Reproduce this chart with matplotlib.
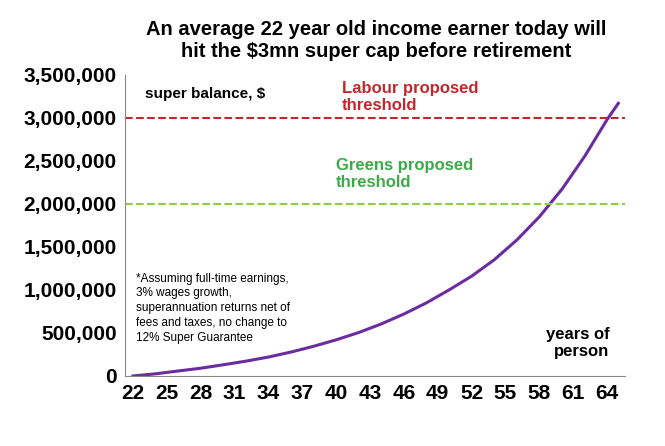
import matplotlib
matplotlib.use("Agg")
import matplotlib.pyplot as plt

ages = [22, 24, 26, 28, 30, 32, 34, 36, 38, 40, 42, 44, 46, 48, 50, 52, 54,
        56, 58, 60, 62, 64, 65]
balance = [0, 25000, 58000, 90000, 130000, 172000, 220000, 278000, 345000,
           420000, 505000, 605000, 720000, 850000, 1000000, 1160000, 1350000,
           1580000, 1850000, 2170000, 2550000, 2980000, 3170000]
labour_cap = 3000000
greens_cap = 2000000
xticks = list(range(22, 65, 3))
yticks = list(range(0, 3500001, 500000))

plt.rcParams['font.family'] = ['Liberation Sans', 'DejaVu Sans']
plt.rcParams['font.weight'] = 'bold'

fig = plt.figure(figsize=(6.65, 4.46), dpi=100)
ax = fig.add_axes([0.188, 0.157, 0.752, 0.675])

ax.plot(ages, balance, color="#6a2c9e", lw=2.2)
ax.axhline(labour_cap, color="#c0282d", ls="--", lw=1.5)
ax.axhline(greens_cap, color="#8dcf3f", ls="--", lw=1.5)

ax.set_xlim(21.3, 65.6)
ax.set_ylim(0, 3500000)
ax.set_xticks(xticks)
ax.set_yticks(yticks)
ax.set_yticklabels([f"{v:,}" for v in yticks])
ax.tick_params(labelsize=15, length=0, pad=6)
for s in ["top", "right"]:
    ax.spines[s].set_visible(False)
ax.spines["left"].set_color("#888888")
ax.spines["bottom"].set_color("#888888")

ax.text(0.04, 0.96, "super balance, $", transform=ax.transAxes, fontsize=11,
        va="top")
ax.text(40.5, 3430000, "Labour proposed\nthreshold", color="#c0282d",
        fontsize=12, va="top")
ax.text(40.0, 2540000, "Greens proposed\nthreshold", color="#3daa4a",
        fontsize=12, va="top")
ax.text(22.3, 1200000, "*Assuming full-time earnings,\n3% wages growth,\n"
        "superannuation returns net of\nfees and taxes, no change to\n"
        "12% Super Guarantee", fontsize=8.5, fontweight="normal", va="top",
        linespacing=1.3)
ax.text(64.2, 570000, "years of\nperson", fontsize=12, ha="right", va="top")

fig.suptitle("An average 22 year old income earner today will\n"
             "hit the $3mn super cap before retirement",
             fontsize=14.5, fontweight="bold", x=0.565, y=0.955)
fig.savefig("out.png", dpi=100)
